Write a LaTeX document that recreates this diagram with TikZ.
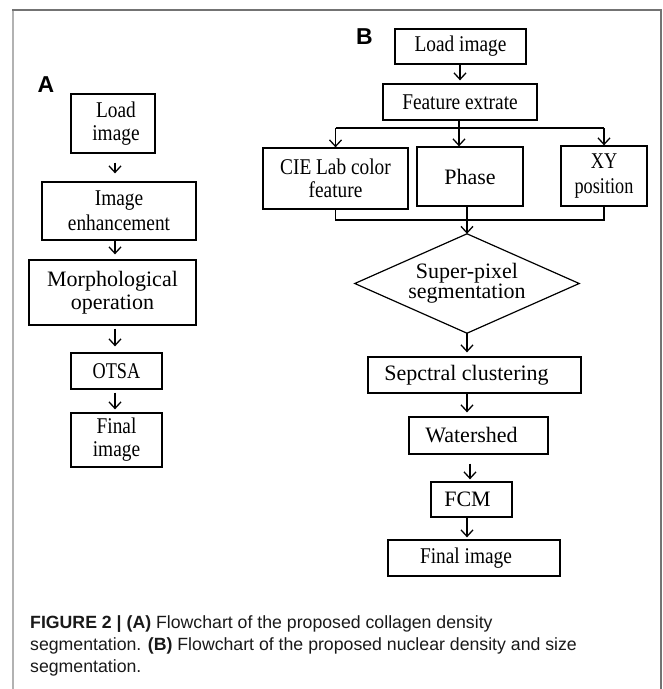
\documentclass[tikz,border=0pt]{standalone}
\usepackage{fontspec}
\setmainfont{Liberation Serif}
\newfontfamily\sansf{Liberation Sans}
\newfontfamily\serifc[FakeStretch=0.86]{Liberation Serif}
\newfontfamily\serifcc[FakeStretch=0.81]{Liberation Serif}
\usetikzlibrary{arrows.meta,calc}
\begin{document}
\begin{tikzpicture}[x=1pt,y=-1pt,
  box/.style={draw=black, line width=1.3pt, inner sep=0pt, align=center,
              font=\fontsize{22}{23}\selectfont},
  cbox/.style={box, font=\serifc\fontsize{22.5}{23}\selectfont},
  ccbox/.style={box, font=\serifcc\fontsize{22.5}{25}\selectfont},
  arr/.style={line width=1.3pt, -{Straight Barb[length=6.5pt,width=12pt]}},
  ln/.style={line width=1.3pt},
  panel/.style={font=\sansf\bfseries\fontsize{23}{23}\selectfont, inner sep=0pt},
  captxt/.style={font=\sansf\fontsize{17.7}{22}\selectfont, inner sep=0pt, anchor=base west, text=black!90}
]
\useasboundingbox (0,0) rectangle (663,689);
% frame
\draw[line width=2pt, black!30] (13,10) -- (13,689);
\draw[line width=1.4pt, black!55] (12,10) -- (661,10) -- (661,689);

% panel labels
\node[panel] (lA) at (46,84.5) {A};
\node[panel] (lB) at (364.5,37) {B};

% panel A
\coordinate (ca) at (115,0);
\node[cbox, minimum width=84pt, minimum height=59pt] (a1) at (113,123.5) {\hspace*{6pt}Load\\\hspace*{6pt}image};
\node[cbox, font=\serifc\fontsize{22.5}{25}\selectfont, minimum width=154pt, minimum height=58pt] (a2) at (119,211) {Image\\enhancement};
\node[box, minimum width=167pt, minimum height=65pt] (a3) at (112.5,292.5) {Morphological\\operation};
\node[ccbox, minimum width=91pt, minimum height=36pt] (a4) at (116.5,371) {OTSA};
\node[cbox, minimum width=91pt, minimum height=54pt] (a5) at (116.5,440) {Final\\image};

\draw[arr, shorten <=9pt, shorten >=8pt] (a1.south -| ca) -- (a2.north -| ca);
\draw[arr, shorten >=5pt] (a2.south -| ca) -- (a3.north -| ca);
\draw[arr, shorten <=3pt, shorten >=6pt] (a3.south -| ca) -- (a4.north -| ca);
\draw[arr, shorten <=3pt, shorten >=3pt] (a4.south -| ca) -- (a5.north -| ca);

% panel B
\coordinate (cb) at (467,0);
\coordinate (cb2) at (470,0);
\coordinate (ct) at (460,0);
\node[cbox, minimum width=131pt, minimum height=35pt] (b1) at (460.5,46.5) {Load image};
\node[cbox, minimum width=154pt, minimum height=36pt] (b2) at (460,102) {Feature extrate};
\node[cbox, minimum width=145pt, minimum height=61pt] (b3) at (335.5,178.5) {CIE Lab color\\feature};
\node[box, minimum width=106pt, minimum height=59pt] (b4) at (470,176.5) {\raisebox{-4pt}{Phase}};
\node[ccbox, minimum width=86pt, minimum height=60pt] (b5) at (604,176) {XY\\position};
\node[inner sep=0pt, minimum width=224pt, minimum height=99pt, align=center,
      font=\fontsize{22}{18}\selectfont] (dia) at (467,283.5) {Super-pixel\\segmentation};
\draw[line width=1.2pt] (dia.north) -- (dia.east) -- (dia.south) -- (dia.west) -- cycle;
\node[box, minimum width=213pt, minimum height=36pt] (b6) at (474.5,375) {Sepctral clustering\hspace*{16pt}};
\node[box, minimum width=139pt, minimum height=37pt] (b7) at (478.5,435.5) {Watershed\hspace*{14pt}};
\node[box, minimum width=81pt, minimum height=35pt] (b8) at (471.5,499.5) {FCM\hspace*{8pt}};
\node[cbox, minimum width=172pt, minimum height=36pt] (b9) at (474,558) {Final image\hspace*{16pt}};

\coordinate (br) at (459,128);
\coordinate (mg) at (467,220);
\draw[arr, shorten >=3pt] (b1.south -| ct) -- (b2.north -| ct);
\draw[ln] (b2.south -| br) -- (br);
\draw[ln] (br -| b3.north) -- (br -| b5.north);
\draw[arr] (br -| b3.north) -- (b3.north);
\draw[arr] (br -| b5.north) -- (b5.north);
\draw[arr] (br) -- (b4.north -| br);
\draw[ln] (b3.south) -- (b3.south |- mg) -- (b5.south |- mg) -- (b5.south);
\draw[arr] (b4.south -| mg) -- (dia.north);
\draw[arr, shorten >=4pt] (dia.south) -- (b6.north -| cb);
\draw[arr, shorten >=4pt] (b6.south -| cb) -- (b7.north -| cb);
\draw[arr, shorten <=9pt, shorten >=2pt] (b7.south -| cb2) -- (b8.north -| cb2);
\draw[arr, shorten >=2pt] (b8.south -| cb) -- (b9.north -| cb);

% caption
\node[captxt] (cap1) at (30,628) {{\bfseries FIGURE 2 | (A)} Flowchart of the proposed collagen density};
\node[captxt] (cap2) at (30,650) {segmentation. {\bfseries (B)} Flowchart of the proposed nuclear density and size};
\node[captxt] (cap3) at (30,672) {segmentation.};
\end{tikzpicture}
\end{document}
